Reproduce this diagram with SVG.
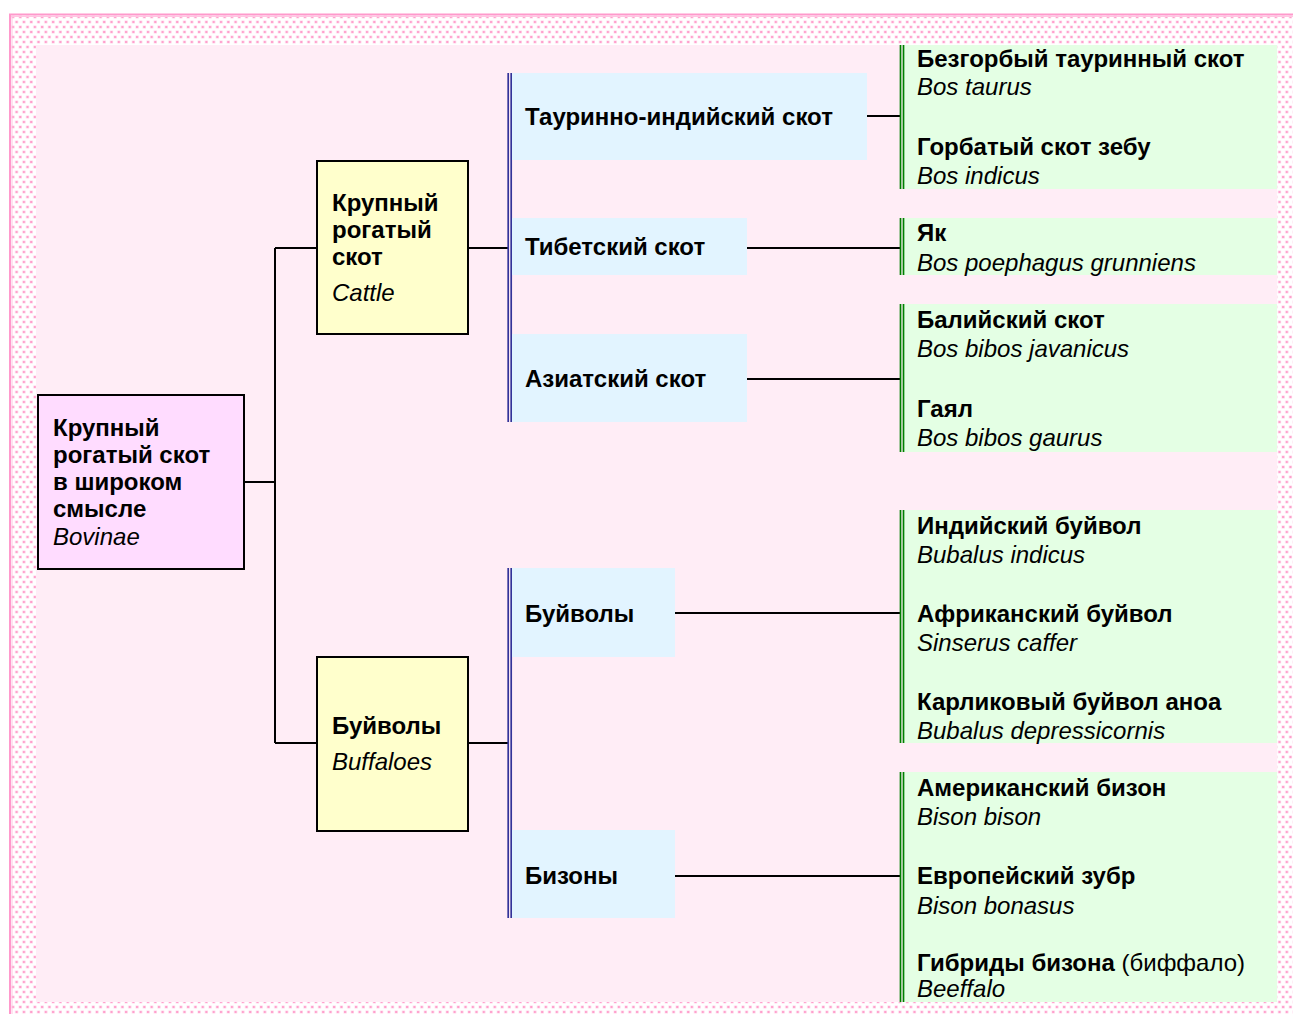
<svg xmlns="http://www.w3.org/2000/svg" width="1293" height="1014" viewBox="0 0 1293 1014">
<defs>
<pattern id="dots" x="0" y="0" width="7.3" height="10" patternUnits="userSpaceOnUse">
<rect width="7.3" height="10" fill="#ffffff"/>
<rect x="0.5" y="0.5" width="3" height="3" fill="#ffd6ea"/>
<rect x="1" y="1" width="2" height="2" fill="#ff9fcc"/>
<rect x="4.15" y="5.5" width="3" height="3" fill="#ffd6ea"/>
<rect x="4.65" y="6" width="2" height="2" fill="#ff9fcc"/>
</pattern>
</defs>
<style>
.b{font-family:"Liberation Sans",Arial,sans-serif;font-size:24px;font-weight:bold;fill:#000}
.i{font-family:"Liberation Sans",Arial,sans-serif;font-size:24px;font-style:italic;fill:#000}
.n{font-family:"Liberation Sans",Arial,sans-serif;font-size:24px;font-weight:normal;fill:#000}
.box{stroke:#000;stroke-width:2}
.root{fill:#ffdcff}
.yel{fill:#ffffcc}
.blue{fill:#e2f4ff}
.green{fill:#e4ffe4}
.bl{stroke:#333399;stroke-width:1.7}
.gl{stroke:#008000;stroke-width:1.7}
.c{stroke:#000;stroke-width:2;fill:none}
</style>
<rect x="0" y="0" width="1293" height="1014" fill="#ffffff"/>
<rect x="9" y="14" width="1284" height="1000" fill="url(#dots)"/>
<line x1="9" y1="14.5" x2="1293" y2="14.5" stroke="#ff99cc" stroke-width="2"/>
<line x1="9" y1="16.5" x2="1293" y2="16.5" stroke="#ffc6e2" stroke-width="1"/>
<line x1="10" y1="14" x2="10" y2="1014" stroke="#ff99cc" stroke-width="2"/>
<line x1="12" y1="16" x2="12" y2="1014" stroke="#ffc6e2" stroke-width="1"/>
<rect x="36" y="45" width="1241" height="957" fill="#ffedf6"/>

<g id="connectors">
<path class="c" d="M244 482H275M275 248V743M275 248H317M275 743H317"/>
<path class="c" d="M468 248H508M468 743H508"/>
<path class="c" d="M867 116H900M747 248H900M747 379H900M675 613H900M675 876H900"/>
</g>

<g id="root">
<rect class="box root" x="38" y="395" width="206" height="174"/>
<text class="b" x="53" y="436">Крупный</text>
<text class="b" x="53" y="463">рогатый скот</text>
<text class="b" x="53" y="490">в широком</text>
<text class="b" x="53" y="517">смысле</text>
<text class="i" x="53" y="545">Bovinae</text>
</g>

<g id="cattle">
<rect class="box yel" x="317" y="161" width="151" height="173"/>
<text class="b" x="332" y="211">Крупный</text>
<text class="b" x="332" y="238">рогатый</text>
<text class="b" x="332" y="265">скот</text>
<text class="i" x="332" y="301">Cattle</text>
</g>

<g id="buffaloes">
<rect class="box yel" x="317" y="657" width="151" height="174"/>
<text class="b" x="332" y="734">Буйволы</text>
<text class="i" x="332" y="770">Buffaloes</text>
</g>

<g id="cattle-bar">
<line class="bl" x1="508.2" y1="73" x2="508.2" y2="422"/>
<line class="bl" x1="511.2" y1="73" x2="511.2" y2="422"/>
</g>
<g id="buffalo-bar">
<line class="bl" x1="508.2" y1="568" x2="508.2" y2="918"/>
<line class="bl" x1="511.2" y1="568" x2="511.2" y2="918"/>
</g>

<g id="taurine-indian">
<rect class="blue" x="512" y="73" width="355" height="87"/>
<text class="b" x="525" y="125">Тауринно-индийский скот</text>
</g>
<g id="tibetan">
<rect class="blue" x="512" y="218" width="235" height="57"/>
<text class="b" x="525" y="255">Тибетский скот</text>
</g>
<g id="asian">
<rect class="blue" x="512" y="334" width="235" height="88"/>
<text class="b" x="525" y="387">Азиатский скот</text>
</g>
<g id="buffalo-group">
<rect class="blue" x="512" y="568" width="163" height="89"/>
<text class="b" x="525" y="622">Буйволы</text>
</g>
<g id="bison-group">
<rect class="blue" x="512" y="830" width="163" height="88"/>
<text class="b" x="525" y="884">Бизоны</text>
</g>

<g id="leaf-taurine">
<rect class="green" x="903" y="45" width="374" height="144"/>
<line class="gl" x1="900.5" y1="45" x2="900.5" y2="189"/>
<line class="gl" x1="903.5" y1="45" x2="903.5" y2="189"/>
<text class="b" x="917" y="67">Безгорбый тауринный скот</text>
<text class="i" x="917" y="95">Bos taurus</text>
<text class="b" x="917" y="155">Горбатый скот зебу</text>
<text class="i" x="917" y="184">Bos indicus</text>
</g>
<g id="leaf-yak">
<rect class="green" x="903" y="218" width="374" height="57"/>
<line class="gl" x1="900.5" y1="218" x2="900.5" y2="275"/>
<line class="gl" x1="903.5" y1="218" x2="903.5" y2="275"/>
<text class="b" x="917" y="241">Як</text>
<text class="i" x="917" y="271">Bos poephagus grunniens</text>
</g>
<g id="leaf-asian">
<rect class="green" x="903" y="304" width="374" height="148"/>
<line class="gl" x1="900.5" y1="304" x2="900.5" y2="452"/>
<line class="gl" x1="903.5" y1="304" x2="903.5" y2="452"/>
<text class="b" x="917" y="328">Балийский скот</text>
<text class="i" x="917" y="357">Bos bibos javanicus</text>
<text class="b" x="917" y="417">Гаял</text>
<text class="i" x="917" y="446">Bos bibos gaurus</text>
</g>
<g id="leaf-buffalo">
<rect class="green" x="903" y="510" width="374" height="233"/>
<line class="gl" x1="900.5" y1="510" x2="900.5" y2="743"/>
<line class="gl" x1="903.5" y1="510" x2="903.5" y2="743"/>
<text class="b" x="917" y="534">Индийский буйвол</text>
<text class="i" x="917" y="563">Bubalus indicus</text>
<text class="b" x="917" y="622">Африканский буйвол</text>
<text class="i" x="917" y="651">Sinserus caffer</text>
<text class="b" x="917" y="710">Карликовый буйвол аноа</text>
<text class="i" x="917" y="739">Bubalus depressicornis</text>
</g>
<g id="leaf-bison">
<rect class="green" x="903" y="772" width="374" height="230"/>
<line class="gl" x1="900.5" y1="772" x2="900.5" y2="1002"/>
<line class="gl" x1="903.5" y1="772" x2="903.5" y2="1002"/>
<text class="b" x="917" y="796">Американский бизон</text>
<text class="i" x="917" y="825">Bison bison</text>
<text class="b" x="917" y="884">Европейский зубр</text>
<text class="i" x="917" y="914">Bison bonasus</text>
<text x="917" y="971"><tspan class="b">Гибриды бизона</tspan><tspan class="n"> (биффало)</tspan></text>
<text class="i" x="917" y="997">Beeffalo</text>
</g>
</svg>
